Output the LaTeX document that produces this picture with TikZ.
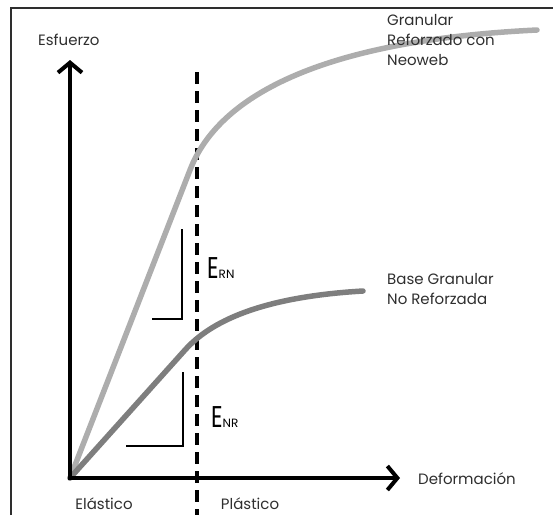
\documentclass[tikz,border=0pt]{standalone}
\usepackage{fontspec}
\setmainfont{Poppins}
\newfontfamily\efont[FakeStretch=0.75]{Poppins}
\usetikzlibrary{arrows.meta}
\definecolor{grisclaro}{HTML}{ADADAD}
\definecolor{grisoscuro}{HTML}{7E7E7E}
\definecolor{texto}{HTML}{2E2E2E}

\begin{document}
\begin{tikzpicture}[x=1pt,y=-1pt,
				eje/.style={line width=4pt,line cap=rect,-{Straight Barb[length=10pt,width=24pt]}},
				curva/.style={line width=5.5pt,line cap=round},
				limite/.style={line width=3.5pt,dash pattern=on 12pt off 7pt},
				pendiente/.style={line width=1.6pt},
				etiqueta/.style={inner sep=0pt,text=texto,font=\fontsize{15}{20}\selectfont,align=left}]
				\useasboundingbox (0,0) rectangle (553,515);
				\draw[line width=2pt,texto] (11,515) -- (11,8) -- (553,8);
				\coordinate (O) at (70,478);
				\coordinate (Yfin) at (70,60);
				\coordinate (Xfin) at (400,478);
				\coordinate (Lsup) at (197,72);
				\coordinate (Linf) at (197,515);
				\draw[limite] (Lsup) -- (Linf);
				\draw[curva,grisclaro] (O) -- (190,170) .. controls (220,92) and (330,40) .. (537,30);
				\draw[curva,grisoscuro] (O) -- (185,350) .. controls (210,322) and (260,297) .. (363,291);
				\draw[eje] (O) -- (Yfin);
				\draw[eje] (O) -- (Xfin);
				\draw[pendiente] (182,229) -- (182,319) -- (152,319);
				\draw[pendiente] (183,372) -- (183,446) -- (126,446);
				\node[etiqueta,anchor=base west] (esfuerzo) at (38,45) {Esfuerzo};
				\node[etiqueta,anchor=north west] (reforzado) at (387,14) {Granular\\Reforzado con\\Neoweb};
				\node[etiqueta,anchor=north west] (noreforzado) at (387,273) {Base Granular\\No Reforzada};
				\node[etiqueta,anchor=base west] (deformacion) at (418,484) {Deformación};
				\node[etiqueta,anchor=base] (elastico) at (104,509) {Elástico};
				\node[etiqueta,anchor=base] (plastico) at (250,509) {Plástico};
				\node[inner sep=0pt,anchor=base west,text=black] (ern) at (207,278) {{\efont\fontsize{30}{30}\selectfont E}{\fontsize{12}{12}\selectfont RN}};
				\node[inner sep=0pt,anchor=base west,text=black] (enr) at (211,427) {{\efont\fontsize{30}{30}\selectfont E}{\fontsize{12}{12}\selectfont NR}};
			\end{tikzpicture}
\end{document}
